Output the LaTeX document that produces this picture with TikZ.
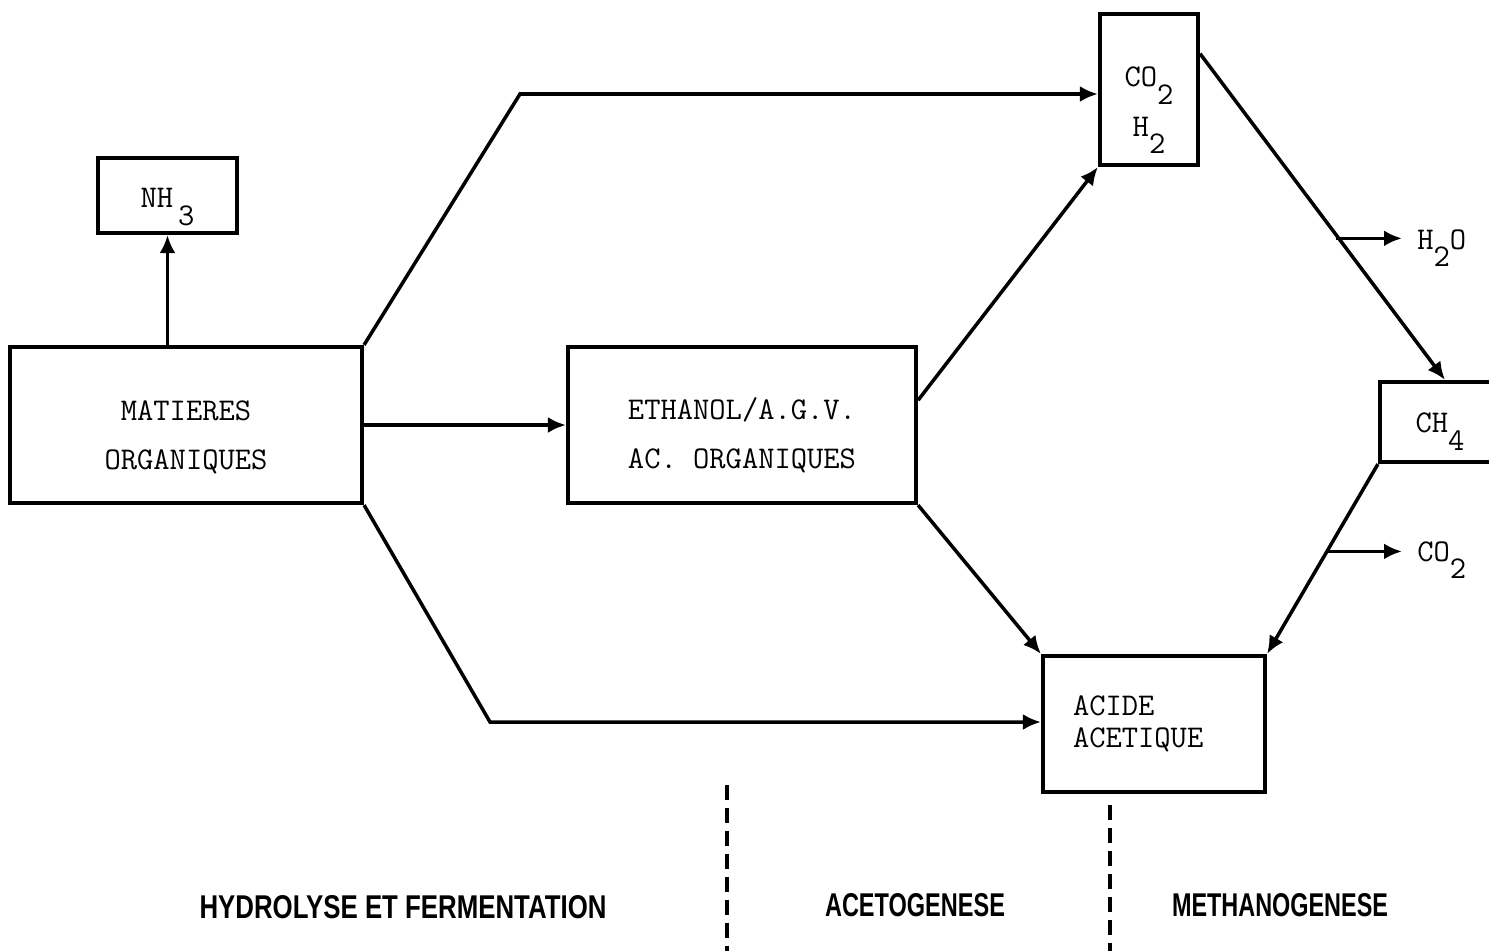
\documentclass[tikz,border=0pt]{standalone}
\usepackage{fontspec}
\usepackage{tikz}
\usetikzlibrary{arrows.meta, calc}
\newfontfamily\phasefont{Liberation Sans}
\newcommand{\low}[1]{\raisebox{-0.55em}{#1}}

\begin{document}
\begin{tikzpicture}[x=0.02cm, y=-0.02cm,
    box/.style={draw, line width=2.4pt, inner sep=0pt, align=center,
      font=\fontsize{18}{28}\selectfont\ttfamily},
    drop/.style={text height=#1},
    arr/.style={line width=2pt, -{Latex[length=0.36cm,width=0.32cm]}},
    product/.style={inner ysep=1pt, inner xsep=0.3cm, anchor=west, font=\fontsize{18}{20}\selectfont\ttfamily},
    divider/.style={line width=2pt, dash pattern=on 0.3cm off 0.16cm},
    phase/.style={inner sep=0pt, font=\phasefont\bfseries}]
	\useasboundingbox (0,0) rectangle (1489,951);
	\clip (0,0) rectangle (1489,951);

	\node[box, drop=24pt, minimum width=2.78cm, minimum height=1.5cm] (nh3) at (167.5,195.5) {NH\kern0.15em\low{3}};
	\node[box, drop=53pt, minimum width=7.04cm, minimum height=3.12cm] (mat) at (186,425) {MATIERES\\ORGANIQUES};
	\node[box, drop=52pt, minimum width=6.96cm, minimum height=3.12cm] (eth) at (742,425) {ETHANOL/A.G.V.\\AC. ORGANIQUES};
	\node[box, drop=63pt, minimum width=1.96cm, minimum height=3.02cm] (co2) at (1149,89.5) {CO\low{2}\\H\low{2}};
	\node[box, drop=22pt, minimum width=2.4cm, minimum height=1.6cm] (ch4) at (1440,422) {CH\low{4}};
	\node[box, minimum width=4.44cm, minimum height=2.72cm, text width=3.24cm, align=left,
	  font=\fontsize{18}{18}\selectfont\ttfamily] (acide) at (1154,724) {ACIDE\\ACETIQUE};

	\node[product] (h2o) at (1402,248) {H\low{2}O};
	\node[product] (co2out) at (1402,560) {CO\low{2}};

	\coordinate (up) at (520,94);
	\coordinate (down) at (490,722);
	\coordinate (p1) at ($(co2.35)!0.566!(ch4.north)$);
	\coordinate (p2) at ($(ch4.south west)!0.46!(acide.north east)$);

	\draw[arr] (mat.north -| nh3.center) -- (nh3.south);
	\draw[arr] (mat.east) -- (eth.west);
	\draw[arr] (mat.north east) -- (up) -- (up -| co2.west);
	\draw[arr] (mat.south east) -- (down) -- (down -| acide.west);
	\draw[arr] (eth.8) -- (co2.south west);
	\draw[arr] (eth.south east) -- (acide.north west);
	\draw[arr] (co2.35) -- ([xshift=0.1cm]ch4.north);
	\draw[arr] (ch4.south west) -- (acide.north east);
	\draw[arr] (p1) -- (p1 -| h2o.west);
	\draw[arr] (p2) -- (p2 -| co2out.west);

	\draw[divider] (727,785) -- (727,951);
	\draw[divider] (1110,805) -- (1110,951);

	\node[phase] (hyd) at (403,907) {\resizebox{8.14cm}{0.46cm}{HYDROLYSE ET FERMENTATION}};
	\node[phase] (aceto) at (915,905) {\resizebox{3.6cm}{0.46cm}{ACETOGENESE}};
	\node[phase] (metha) at (1280,905) {\resizebox{4.32cm}{0.46cm}{METHANOGENESE}};
\end{tikzpicture}
\end{document}
